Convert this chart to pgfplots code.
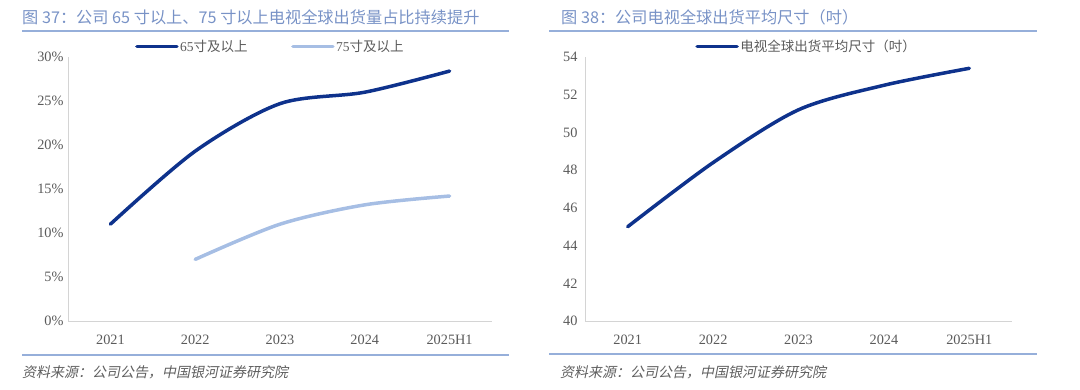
\documentclass[border=0pt]{standalone}
\usepackage{fontspec}
\setmainfont{Liberation Serif}
\newfontfamily\cjk{Noto Sans CJK SC}
\newfontfamily\cjkit[FakeSlant=0.2]{Noto Sans CJK SC}
\usepackage{pgfplots}
\pgfplotsset{compat=1.18}
\definecolor{navy}{RGB}{14,50,140}
\definecolor{lightb}{RGB}{166,190,228}
\definecolor{titleb}{RGB}{120,146,198}
\definecolor{ruleb}{RGB}{150,175,218}
\definecolor{tickg}{RGB}{90,90,90}
\definecolor{axg}{RGB}{212,212,212}
\definecolor{srcg}{RGB}{95,95,95}
\pgfplotsset{
  mystyle/.style={
    scale only axis,
    anchor=south west,
    height=264pt,
    axis x line*=bottom,
    axis y line*=left,
    axis line style={axg, line width=0.8pt},
    major tick length=0pt,
    tick style={draw=none},
    xmin=-0.5, xmax=4.5,
    xtick={0,1,2,3,4},
    xticklabels={2021,2022,2023,2024,2025H1},
    ticklabel style={font=\fontsize{14.3}{15}\selectfont, text=tickg},
    xticklabel style={yshift=-10pt},
    clip=false,
    legend columns=2,
    legend image code/.code={\draw[#1] (0pt,0pt) -- (40pt,0pt);},
    legend style={draw=none, fill=none, inner sep=0pt, anchor=west,
      font=\fontsize{13.5}{14}\selectfont, text=tickg,
      nodes={inner sep=1.5pt},
      /tikz/every even column/.append style={column sep=42pt}},
  }
}
\begin{document}
\begin{tikzpicture}[x=1pt,y=1pt]
\useasboundingbox (0,0) rectangle (1080,389);
% titles
\node[anchor=west, text=titleb, font=\cjk\fontsize{16.2}{16}\selectfont, inner sep=0pt] at (22,372) {图 37：公司 65 寸以上、75 寸以上电视全球出货量占比持续提升};
\node[anchor=west, text=titleb, font=\cjk\fontsize{16.2}{16}\selectfont, inner sep=0pt] at (561,372) {图 38：公司电视全球出货平均尺寸（吋）};
\draw[ruleb, line width=1.2pt] (22,358) -- (509,358);
\draw[ruleb, line width=1.2pt] (549,358) -- (1037,358);
\draw[ruleb, line width=1.2pt] (22,34) -- (509,34);
\draw[ruleb, line width=1.2pt] (549,35) -- (1037,35);
\node[anchor=west, text=srcg, font=\cjkit\fontsize{14}{14}\selectfont, inner sep=0pt] at (22,17) {资料来源：公司公告，中国银河证券研究院};
\node[anchor=west, text=srcg, font=\cjkit\fontsize{14}{14}\selectfont, inner sep=0pt] at (560,17) {资料来源：公司公告，中国银河证券研究院};

% left chart
\begin{axis}[mystyle,
  at={(68pt,68pt)}, width=424pt,
  ymin=0, ymax=30,
  ytick={0,5,10,15,20,25,30},
  yticklabels={0\%,5\%,10\%,15\%,20\%,25\%,30\%},
  yticklabel style={xshift=-1pt},
  legend style={at={(0.158,1.04)}},
]
\addplot[navy, line width=3.5pt, smooth, line cap=round] coordinates {
  (0,11.0) (1,19.3) (2,24.7) (3,26.0) (4,28.4)};
\addlegendentry{65{\cjk 寸及以上}}
\addplot[lightb, line width=3.5pt, smooth, line cap=round] coordinates {
  (1,7.0) (2,11.0) (3,13.2) (4,14.2)};
\addlegendentry{75{\cjk 寸及以上}}
\end{axis}

% right chart
\begin{axis}[mystyle,
  at={(585pt,68pt)}, width=427pt,
  ymin=40, ymax=54,
  ytick={40,42,44,46,48,50,52,54},
  yticklabels={40,42,44,46,48,50,52,54},
  yticklabel style={xshift=-4pt},
  legend style={at={(0.258,1.04)}},
]
\addplot[navy, line width=3.5pt, smooth, line cap=round] coordinates {
  (0,45.0) (1,48.4) (2,51.2) (3,52.5) (4,53.4)};
\addlegendentry{{\cjk 电视全球出货平均尺寸（吋）}}
\end{axis}
\end{tikzpicture}
\end{document}
